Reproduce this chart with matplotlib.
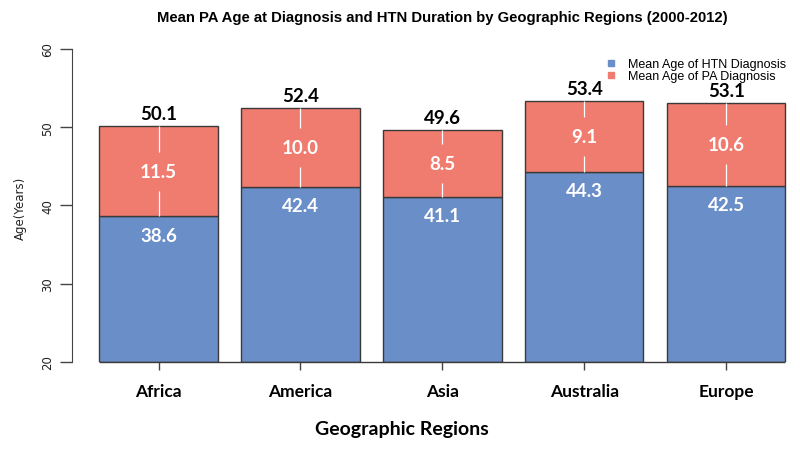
#!/usr/bin/env python3

import numpy as np
import matplotlib
matplotlib.use('Agg')
from matplotlib import pyplot as plt
from matplotlib.lines import Line2D

regions = ['Africa', 'America', 'Asia', 'Australia', 'Europe']
htn_age = [38.6, 42.4, 41.1, 44.3, 42.5]
pa_gap = [11.5, 10.0, 8.5, 9.1, 10.6]
pa_age = [50.1, 52.4, 49.6, 53.4, 53.1]

blue = '#6a8ec8'
red = '#f07b6f'
edge = '#3a3a3a'
lab_font = ['Lato', 'DejaVu Sans']

fig = plt.figure(figsize=(8, 4.52), dpi=100)
ax = fig.add_axes([0.09, 0.197, 0.926, 0.6925])

# R style barplot layout: width 1, space 0.2
x = 0.2 + 1.2 * np.arange(len(regions)) + 0.5
htn = np.array(htn_age)
gap = np.array(pa_gap)
base = 20

ax.bar(x, htn - base, bottom=base, width=1.0, color=blue,
       edgecolor=edge, linewidth=1.0)
ax.bar(x, gap, bottom=htn, width=1.0, color=red,
       edgecolor=edge, linewidth=1.0)

# white line through the duration part, broken by the label
for xi, h, g in zip(x, htn, gap):
    mid = h + g / 2
    ax.vlines(xi, mid + 2.5, h + g, color='white', linewidth=0.9)
    ax.vlines(xi, h, mid - 2.5, color='white', linewidth=0.9)

for xi, h, g, tot in zip(x, htn, gap, pa_age):
    ax.text(xi, h + g / 2, '{:.1f}'.format(g), ha='center', va='center',
            color='white', fontsize=13.5, fontweight='bold', family=lab_font)
    ax.text(xi, h - 2.4, '{:.1f}'.format(h), ha='center', va='center',
            color='white', fontsize=13.5, fontweight='bold', family=lab_font)
    ax.text(xi, tot + 1.6, '{:.1f}'.format(tot), ha='center', va='center',
            color='black', fontsize=13.5, fontweight='bold', family=lab_font)

ax.hlines(base, x[0] - 0.5, x[-1] + 0.5, color=edge, linewidth=1.0,
          clip_on=False)

ax.set_xlim(-0.032, 6.232)
ax.set_ylim(20, 60)
for s in ['top', 'right', 'bottom']:
    ax.spines[s].set_visible(False)
ax.spines['left'].set_color('#444444')

ax.set_yticks([20, 30, 40, 50, 60])
ax.tick_params(axis='y', length=9, width=1, color='#444444', pad=4,
               labelsize=8.5, labelcolor='#222222')
for t in ax.get_yticklabels():
    t.set_rotation(90)
    t.set_va('center')

ax.set_xticks(x)
ax.set_xticklabels(regions, fontsize=12.5, fontweight='bold',
                   family=lab_font)
ax.tick_params(axis='x', length=6, width=1, color='#444444', pad=9)

fig.text(20 / 800, 1 - 208 / 452, 'Age(Years)', rotation=90, ha='center',
         va='center', fontsize=8.5, color='#222222')
fig.text(402 / 800, 1 - 430 / 452, 'Geographic Regions', ha='center',
         va='center', fontsize=14, fontweight='bold', family=lab_font)
fig.text(442 / 800, 1 - 18 / 452,
         'Mean PA Age at Diagnosis and HTN Duration by Geographic Regions (2000-2012)',
         ha='center', va='center', fontsize=10.7, fontweight='bold',
         family=['Liberation Sans', 'DejaVu Sans'])

handles = [Line2D([], [], marker='s', linestyle='none', markersize=5,
                  color=blue),
           Line2D([], [], marker='s', linestyle='none', markersize=5,
                  color=red)]
fig.legend(handles, ['Mean Age of HTN Diagnosis', 'Mean Age of PA Diagnosis'],
           loc='upper left', bbox_to_anchor=(598 / 800, 1 - 53 / 452),
           frameon=False, handlelength=1.0, handletextpad=0.9,
           labelspacing=0.0, borderpad=0,
           prop={'family': ['Liberation Sans', 'DejaVu Sans'], 'size': 9})

plt.savefig('out.png', dpi=100)
